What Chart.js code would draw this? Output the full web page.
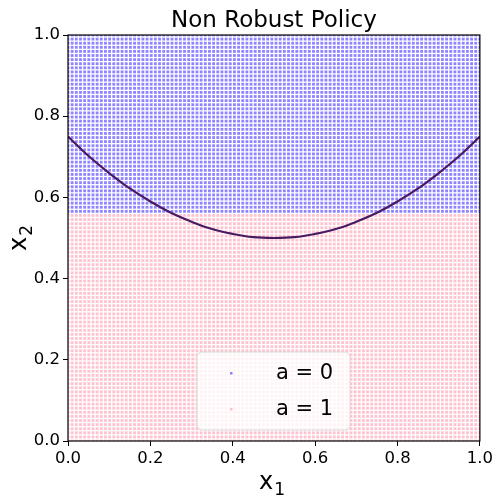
<!DOCTYPE html>
<html lang="en">
  <head>
    <meta charset="UTF-8" />
    <title>Non Robust Policy</title>
    <script src="https://cdn.jsdelivr.net/npm/chart.js"></script>
    <style>
      body { margin: 0; background: #fff; }
      #wrap { width: 496px; height: 497px; }
    </style>
  </head>
  <body>
    <div id="wrap"><canvas id="chart"></canvas></div>
    <script>
      // grid of evaluated states (100 x 100 over the unit square)
      const gridSize = 100;
      // policy switches from a = 1 (below) to a = 0 (above) at this x2
      const boundaryX2 = 0.56;
      // true boundary curve
      const curveX1 = [0, 0.05, 0.1, 0.15, 0.2, 0.25, 0.3, 0.35, 0.4, 0.45, 0.5,
                       0.55, 0.6, 0.65, 0.7, 0.75, 0.8, 0.85, 0.9, 0.95, 1.0];
      const curveX2 = [0.75, 0.702, 0.66, 0.622, 0.59, 0.562, 0.54, 0.522, 0.51, 0.502, 0.5,
                       0.502, 0.51, 0.522, 0.54, 0.562, 0.59, 0.622, 0.66, 0.702, 0.75];
      const tickValues = [0, 0.2, 0.4, 0.6, 0.8, 1.0];
      const legendLabels = ["a = 0", "a = 1"];
      const titleText = "Non Robust Policy";

      const pointsA0 = [];
      const pointsA1 = [];
      for (let i = 0; i < gridSize; i++) {
        for (let j = 0; j < gridSize; j++) {
          const x = i / (gridSize - 1);
          const y = j / (gridSize - 1);
          if (y > boundaryX2) pointsA0.push({ x: x, y: y });
          else pointsA1.push({ x: x, y: y });
        }
      }
      const curve = curveX1.map((x, i) => ({ x: x, y: curveX2[i] }));

      const colorA0 = "rgba(100, 85, 255, 0.72)";
      const colorA1 = "rgba(255, 170, 188, 0.72)";
      const font = "'DejaVu Sans'";

      // draws x with a lowered subscript, centred on (0,0)
      function subLabel(ctx, base, sub) {
        ctx.font = "24px " + font;
        const wb = ctx.measureText(base).width;
        ctx.font = "17px " + font;
        const ws = ctx.measureText(sub).width;
        const x0 = -(wb + ws + 1) / 2;
        ctx.textBaseline = "alphabetic";
        ctx.textAlign = "left";
        ctx.font = "24px " + font;
        ctx.fillText(base, x0, 5);
        ctx.font = "17px " + font;
        ctx.fillText(sub, x0 + wb + 1, 11);
      }

      const framePlugin = {
        id: "frame",
        afterDraw(chart) {
          const ctx = chart.ctx;
          const a = chart.chartArea;
          ctx.save();
          ctx.strokeStyle = "#000";
          ctx.lineWidth = 1.2;
          ctx.strokeRect(a.left, a.top, a.right - a.left, a.bottom - a.top);

          // title over the plot area
          ctx.fillStyle = "#000";
          ctx.font = "23px " + font;
          ctx.textAlign = "center";
          ctx.textBaseline = "alphabetic";
          ctx.fillText(titleText, (a.left + a.right) / 2, 27);

          // axis labels
          ctx.save();
          ctx.translate((a.left + a.right) / 2 - 2, 484);
          subLabel(ctx, "x", "1");
          ctx.restore();
          ctx.save();
          ctx.translate(21, (a.top + a.bottom) / 2);
          ctx.rotate(-Math.PI / 2);
          subLabel(ctx, "x", "2");
          ctx.restore();

          // legend box inside the plot
          const bx = 197, by = 352, bw = 153, bh = 78, r = 5;
          ctx.fillStyle = "rgba(255,255,255,0.8)";
          ctx.strokeStyle = "#d8d8d8";
          ctx.lineWidth = 1;
          ctx.beginPath();
          ctx.roundRect(bx, by, bw, bh, r);
          ctx.fill();
          ctx.stroke();
          const rows = [373, 409];
          const cols = [colorA0, colorA1];
          ctx.font = "21px " + font;
          ctx.textBaseline = "middle";
          ctx.textAlign = "left";
          legendLabels.forEach((lab, k) => {
            ctx.fillStyle = cols[k];
            ctx.fillRect(230, rows[k] - 1, 2.5, 2.5);
            ctx.fillStyle = "#000";
            ctx.fillText(lab, 276, rows[k] + 1);
          });
          ctx.restore();
        },
      };

      const axisCommon = {
        type: "linear",
        min: 0,
        max: 1,
        border: { display: false },
        grid: {
          drawOnChartArea: false,
          drawTicks: true,
          tickLength: 5,
          tickColor: "#000",
          tickWidth: 1,
        },
        ticks: {
          color: "#000",
          font: { family: "DejaVu Sans", size: 16.5 },
          padding: 3,
          autoSkip: false,
          maxRotation: 0,
          callback: (v) => v.toFixed(1),
        },
        afterBuildTicks: (scale) => {
          scale.ticks = tickValues.map((v) => ({ value: v }));
        },
      };

      new Chart(document.getElementById("chart"), {
        type: "scatter",
        data: {
          datasets: [
            {
              type: "line",
              data: curve,
              borderColor: "#4a1a62",
              borderWidth: 2.2,
              pointRadius: 0,
              tension: 0.4,
              fill: false,
              order: 0,
            },
            {
              data: pointsA0,
              backgroundColor: colorA0,
              borderWidth: 0,
              pointStyle: "rect",
              pointRadius: 2.0,
              order: 1,
            },
            {
              data: pointsA1,
              backgroundColor: colorA1,
              borderWidth: 0,
              pointStyle: "rect",
              pointRadius: 2.0,
              order: 2,
            },
          ],
        },
        options: {
          responsive: true,
          maintainAspectRatio: false,
          animation: false,
          events: [],
          layout: { padding: { right: 15, left: 0, top: 35, bottom: 0 } },
          plugins: {
            legend: { display: false },
            tooltip: { enabled: false },
          },
          scales: {
            x: Object.assign({}, axisCommon, {
              position: "bottom",
              afterFit: (scale) => { scale.height = 56; },
            }),
            y: Object.assign({}, axisCommon, {
              position: "left",
              afterFit: (scale) => { scale.width = 68; },
            }),
          },
        },
        plugins: [framePlugin],
      });
    </script>
  </body>
</html>
